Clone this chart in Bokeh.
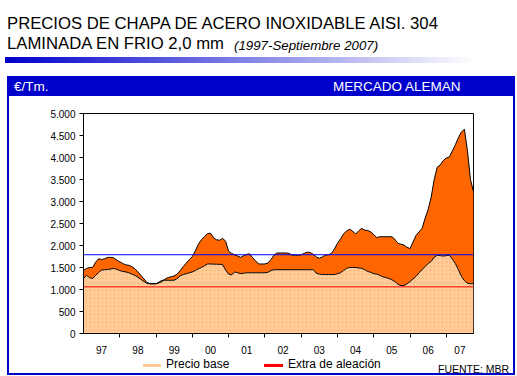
from bokeh.plotting import figure
from bokeh.models import (Range1d, FixedTicker, Span, ColumnDataSource, Div)
from bokeh.layouts import column
from bokeh.embed import file_html
from bokeh.resources import INLINE

# ---------------- data (monthly, Jan 1997 - Sep 2007) ----------------
months = list(range(130))
precio_total = [
    1430, 1480, 1500, 1500, 1620, 1700, 1680, 1700, 1730, 1730,
    1720, 1670, 1630, 1590, 1560, 1550, 1520, 1470, 1400, 1320,
    1240, 1160, 1130, 1130, 1130, 1150, 1180, 1240, 1270, 1290,
    1310, 1350, 1430, 1520, 1600, 1680, 1750, 1880, 2030, 2130,
    2200, 2270, 2280, 2180, 2130, 2120, 2160, 2100, 1870, 1820,
    1790, 1760, 1730, 1770, 1800, 1810, 1720, 1640, 1580, 1580,
    1580, 1600, 1680, 1780, 1830, 1830, 1830, 1830, 1820, 1780,
    1780, 1780, 1790, 1820, 1850, 1840, 1800, 1740, 1710, 1740,
    1780, 1790, 1820, 1920, 2050, 2150, 2260, 2330, 2370, 2330,
    2260, 2330, 2390, 2350, 2340, 2310, 2250, 2180, 2200, 2200,
    2200, 2200, 2200, 2140, 2050, 2030, 2010, 1960, 1930, 2080,
    2230, 2310, 2390, 2620, 2820, 3100, 3500, 3780, 3830, 3930,
    3990, 4010, 4150, 4290, 4450, 4580, 4640, 4150, 3500, 3220,
]
precio_base = [
    1250, 1320, 1270, 1250, 1320, 1390, 1440, 1450, 1455, 1465,
    1480, 1460, 1430, 1410, 1400, 1380, 1350, 1320, 1280, 1230,
    1180, 1140, 1130, 1130, 1130, 1170, 1210, 1210, 1210, 1210,
    1210, 1250, 1310, 1340, 1360, 1380, 1400, 1430, 1470, 1500,
    1540, 1580, 1580, 1575, 1575, 1570, 1570, 1440, 1350, 1330,
    1400, 1380, 1360, 1370, 1380, 1380, 1380, 1380, 1380, 1380,
    1380, 1390, 1430, 1450, 1450, 1450, 1450, 1450, 1450, 1450,
    1450, 1450, 1450, 1450, 1450, 1450, 1450, 1370, 1350, 1340,
    1340, 1340, 1340, 1340, 1360, 1380, 1430, 1480, 1500, 1500,
    1500, 1490, 1480, 1450, 1410, 1390, 1360, 1350, 1320, 1290,
    1270, 1250, 1220, 1180, 1120, 1090, 1090, 1130, 1180, 1240,
    1300, 1380, 1450, 1520, 1590, 1640, 1730, 1780, 1770, 1760,
    1770, 1780, 1690, 1590, 1450, 1300, 1200, 1140, 1130, 1130,
]
nivel_azul = 1790
nivel_rojo = 1060
year_labels = ["97", "98", "99", "00", "01", "02", "03", "04", "05", "06", "07"]
year_label_pos = [6, 18, 30, 42, 54, 66, 78, 90, 102, 114, 124.5]
year_bounds = [12, 24, 36, 48, 60, 72, 84, 96, 108, 120]
y_ticks = [0, 500, 1000, 1500, 2000, 2500, 3000, 3500, 4000, 4500, 5000]
y_tick_labels = ["0", "500", "1.000", "1.500", "2.000", "2.500", "3.000",
                 "3.500", "4.000", "4.500", "5.000"]
titulo_1 = "PRECIOS DE CHAPA DE ACERO INOXIDABLE AISI. 304"
titulo_2 = "LAMINADA EN FRIO 2,0 mm"
subtitulo = "(1997-Septiembre 2007)"
unidad = "€/Tm."
mercado = "MERCADO ALEMAN"
fuente = "FUENTE: MBR"
serie_base = "Precio base"
serie_extra = "Extra de aleación"

# ---------------- layout ----------------
W, H = 517, 376
HEAD = 96                       # height of the html part above the figure
L, T, R, B = 83, 113, 473, 333  # plot frame in page pixels
FONT = "Liberation Sans"
BLUE = "#0000CC"
C_BASE = "#FFCC99"
C_EXTRA = "#FF6600"

p = figure(width=W, height=H - HEAD, output_backend="svg", toolbar_location=None,
           x_range=Range1d(0, 129), y_range=Range1d(0, 5000),
           min_border_left=L, min_border_right=W - R,
           min_border_top=T - HEAD, min_border_bottom=H - B, title=None,
           margin=0)
p.xgrid.visible = False
p.ygrid.visible = False
p.outline_line_color = "black"
p.background_fill_color = "white"
p.border_fill_color = "white"

src = ColumnDataSource(dict(m=months, total=precio_total, base=precio_base))
p.varea(x="m", y1="base", y2="total", source=src, fill_color=C_EXTRA)
p.varea(x="m", y1=0, y2="base", source=src, fill_color=C_BASE,
        hatch_pattern="dot", hatch_color="#F9A860", hatch_scale=4, hatch_alpha=0.6)
p.line("m", "total", source=src, line_color="black", line_width=1)
p.line("m", "base", source=src, line_color="black", line_width=1)
p.add_layout(Span(location=nivel_azul, dimension="width", line_color="#0000FF", line_width=1))
p.add_layout(Span(location=nivel_rojo, dimension="width", line_color="#FF0000", line_width=1))

# axes
xa = p.xaxis[0]
xa.ticker = FixedTicker(ticks=year_label_pos, minor_ticks=year_bounds)
xa.major_label_overrides = {k: v for k, v in zip(year_label_pos, year_labels)}
xa.major_tick_out = 0
xa.major_tick_in = 0
xa.minor_tick_out = 4
xa.minor_tick_in = 0
xa.minor_tick_line_color = "black"
xa.axis_line_color = "black"
xa.major_label_standoff = 8
xa.major_label_text_font = FONT
xa.major_label_text_font_size = "10px"
xa.major_label_text_color = "black"

ya = p.yaxis[0]
ya.ticker = FixedTicker(ticks=y_ticks, minor_ticks=[])
ya.major_label_overrides = {k: v for k, v in zip(y_ticks, y_tick_labels)}
ya.major_tick_out = 4
ya.major_tick_in = 0
ya.major_tick_line_color = "black"
ya.axis_line_color = "black"
ya.major_label_standoff = 4
ya.major_label_text_font = FONT
ya.major_label_text_font_size = "10px"
ya.major_label_text_color = "black"


# ---------------- html part: title, gradient bar, header, frame, legend ----------------
def txt(s, left, baseline, size, color="#000", italic=False):
    top = baseline - 0.8465 * size
    st = "font-style:italic;" if italic else ""
    return (f'<div style="position:absolute;left:{left}px;top:{top:.2f}px;'
            f'font-size:{size}px;line-height:{size}px;color:{color};{st}'
            f'white-space:nowrap;">{s}</div>')


def rect(left, top, width, height, css):
    return (f'<div style="position:absolute;left:{left}px;top:{top}px;'
            f'width:{width}px;height:{height}px;{css}"></div>')


html = (
    f'<div style="position:relative;width:{W}px;height:{HEAD}px;'
    f'font-family:\'{FONT}\',Arial,sans-serif;">'
    + txt(titulo_1, 7, 30, 16.7)
    + txt(titulo_2, 7, 50, 16.7)
    + txt(subtitulo, 234, 50, 13.3, italic=True)
    + rect(5, 57, 470, 5.5, f'background:linear-gradient(to right,{BLUE},#ffffff);')
    + rect(7, 76, 508, 20, f'background:{BLUE};')
    + txt(unidad, 14, 91, 13.5, color="#fff")
    + txt(mercado, 333, 91, 13.5, color="#fff")
    + f'<div style="position:absolute;left:0;top:0;width:{W}px;height:{H}px;'
      f'z-index:10;pointer-events:none;">'
    + rect(7, 76, 508, 299, f'box-sizing:border-box;border:2px solid {BLUE};')
    + rect(143, 364, 18, 3, f'background:{C_BASE};')
    + txt(serie_base, 166, 368, 12)
    + rect(264, 364, 19, 3, 'background:#FF0000;')
    + txt(serie_extra, 288, 368, 12)
    + txt(fuente, 438, 372.5, 10.5)
    + '</div></div>'
)
head = Div(text=html, width=W, height=HEAD, margin=0,
           styles={"overflow": "visible", "z-index": "10"})

page = column(head, p, spacing=0, margin=0)
open("out.html", "w").write(file_html(page, INLINE))
